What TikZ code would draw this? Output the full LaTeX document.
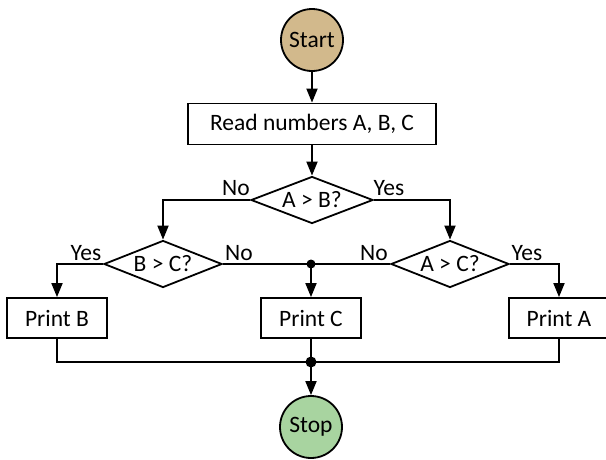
\documentclass[tikz,border=0pt]{standalone}
\usepackage{fontspec}
\setmainfont{Carlito}
\usetikzlibrary{shapes.geometric, arrows.meta, positioning, calc}
\definecolor{starttan}{RGB}{210,185,140}
\definecolor{stopgreen}{RGB}{168,212,160}

\begin{document}
\begin{tikzpicture}[x=1pt, y=-1pt, line width=1.8pt, font=\fontsize{23.5}{26}\selectfont,
  terminal/.style={circle, draw, minimum size=62pt, inner sep=0pt},
  procbox/.style={rectangle, draw, minimum height=40pt, minimum width=100pt, inner sep=0pt},
  decision/.style={diamond, draw, aspect=2.5, inner sep=0pt, minimum width=118pt, minimum height=47pt},
  lbl/.style={inner sep=0pt},
  arr/.style={-{Triangle[length=14pt,width=11pt]}}]
  \useasboundingbox (0,0) rectangle (606,459);

  % terminals and boxes
  \node[terminal, fill=starttan] (start) at (312,40) {Start};
  \node[procbox, minimum width=248pt, minimum height=41pt] (read) at (312,124) {Read numbers A, B, C};
  \node[decision, minimum width=122pt] (ab) at (312,200) {A > B?};
  \node[decision] (bc) at (163,264) {B > C?};
  \node[decision] (ac) at (450,264) {A > C?};
  \node[procbox] (printb) at (57,318) {Print B};
  \node[procbox] (printc) at (311,318) {Print C};
  \node[procbox] (printa) at (559,318) {Print A};
  \node[terminal, fill=stopgreen] (stop) at (311,427) {Stop};
  \coordinate (jno) at (311,264);
  \coordinate (jend) at (311,362);

  % branch labels
  \node[lbl] (ab-no) at (236,188) {No};
  \node[lbl] (ab-yes) at (389,188) {Yes};
  \node[lbl] (bc-yes) at (86,253) {Yes};
  \node[lbl] (bc-no) at (239,253) {No};
  \node[lbl] (ac-no) at (374,253) {No};
  \node[lbl] (ac-yes) at (527,253) {Yes};

  % connectors
  \draw[arr] (start) -- (read);
  \draw[arr] (read) -- (ab);
  \draw[arr] (ab.west) -| (bc.north);
  \draw[arr] (ab.east) -| (ac.north);
  \draw[arr] (bc.west) -| (printb.north);
  \draw[arr] (ac.east) -| (printa.north);
  \draw (bc.east) -- (ac.west);
  \draw[arr] (jno) -- (printc);
  \draw (printb.south) |- (jend) -| (printa.south);
  \draw (printc) -- (jend);
  \draw[arr] (jend) -- (stop);
  \fill (jno) circle (4.5);
  \fill (jend) circle (5.5);
\end{tikzpicture}
\end{document}
